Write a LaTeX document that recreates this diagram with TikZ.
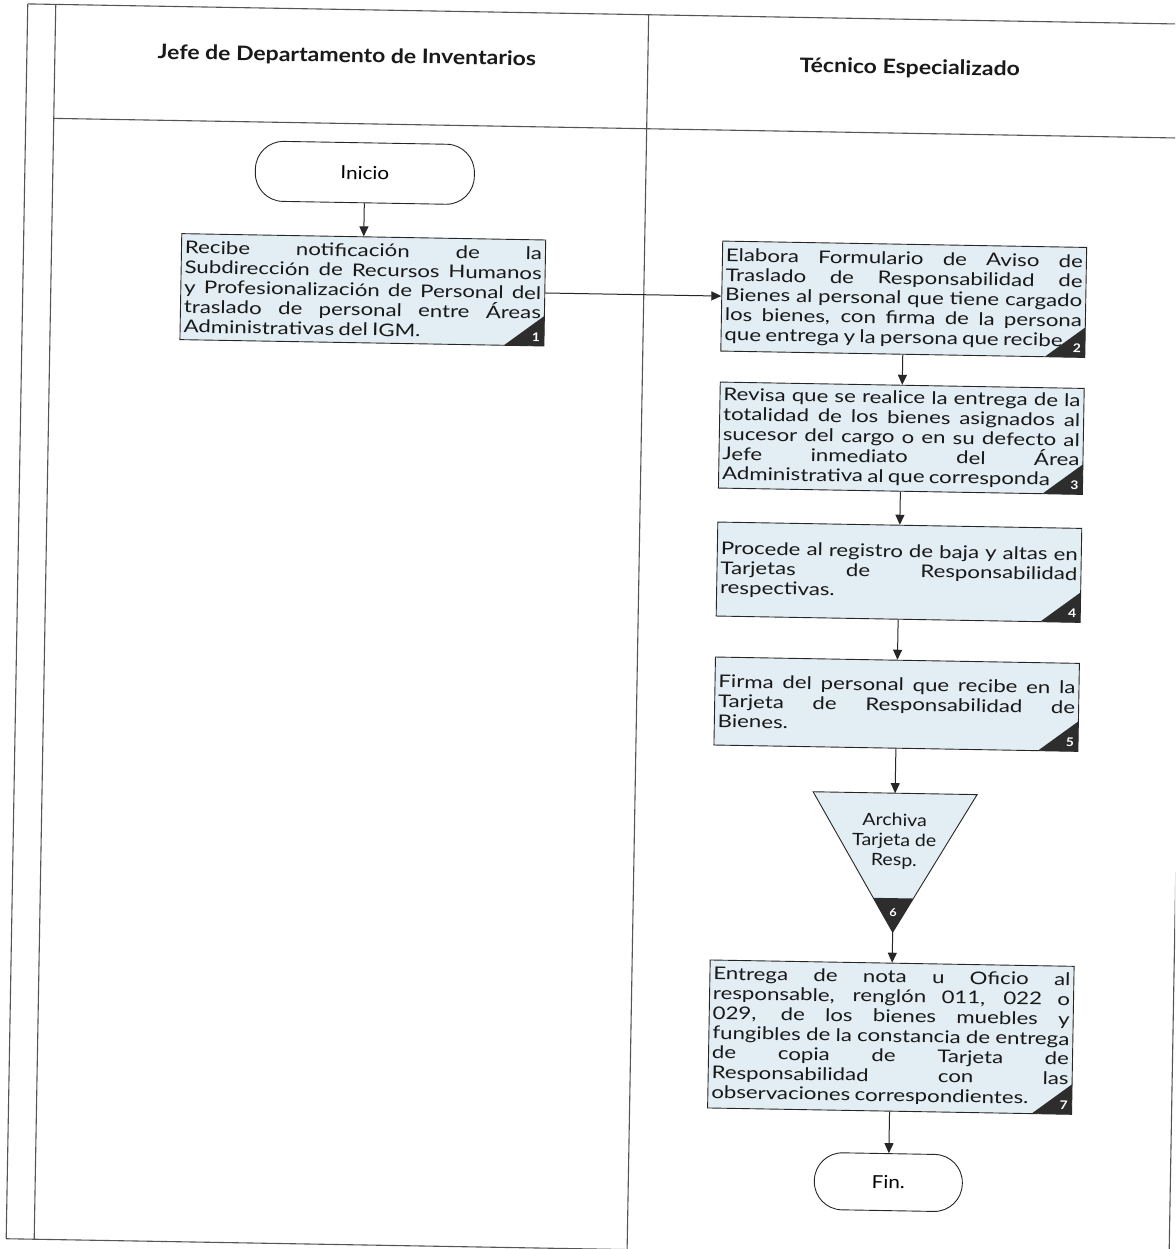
\documentclass[tikz,border=0pt]{standalone}
\usepackage{fontspec}
\setmainfont{Lato}[FakeStretch=1.15]
\newfontfamily\stepfont{Lato}[FakeStretch=1.27]
\usetikzlibrary{arrows.meta}
\definecolor{boxfill}{RGB}{226,238,244}
\definecolor{framegray}{RGB}{85,85,85}
\definecolor{tabdark}{RGB}{45,45,45}
% one justified line of a step text, and the closing line of a step text
\newcommand\jline[1]{\hbox to 357pt{\spaceskip=4.3pt plus 100pt minus 1.2pt\relax #1}}
\newcommand\lline[1]{\hbox to 357pt{\spaceskip=4.3pt minus 1.2pt\relax #1\hfil}}
% dark numbered corner tab at the lower right corner (x,y) of a step box
\newcommand\numtab[4]{%
  \fill[tabdark] (#1-40,#2) -- (#1,#2) -- (#1,#2-30) -- cycle;
  \node[tabnum] (#3) at (#1-8,#2-9) {#4};}
\begin{document}
\begin{tikzpicture}[x=1pt,y=-1pt,
  lane/.style={draw=framegray,line width=1.1pt},
  procbox/.style={draw=black!85,line width=0.9pt,fill=boxfill,rectangle,
    minimum width=364pt,inner xsep=0pt,inner ysep=2pt,
    text=black!90,font=\stepfont\fontsize{17.5}{19.8}\selectfont},
  terminal/.style={draw=black!85,line width=0.9pt,fill=white,rectangle,
    rounded corners=28pt,font=\fontsize{18}{20}\selectfont},
  flow/.style={draw=black!85,line width=1pt,-{Triangle[length=10pt,width=9pt]}},
  lanehead/.style={font=\bfseries\fontsize{20}{24}\selectfont,text=black!90},
  tabnum/.style={text=white,font=\bfseries\fontsize{12}{12}\selectfont,inner sep=0pt}
]
\useasboundingbox (0,0) rectangle (1175,1249);
\clip (0,0) rectangle (1175,1249);
\fill[white] (0,0) rectangle (1175,1249);
\begin{scope}[rotate around={-1:(600,625)},transform shape]
  % swimlane frame
  \draw[lane] (17,14) -- (1180,14);
  \draw[lane] (45,128) -- (1180,128);
  \draw[lane] (17,1249) -- (1180,1249);
  \draw[lane] (17,14) -- (17,1249);
  \draw[lane] (45,14) -- (45,1249);
  \draw[lane] (638,14) -- (638,1249);
  \draw[lane] (1180,14) -- (1180,1249);
  \node[lanehead] (h1) at (337,61) {Jefe de Departamento de Inventarios};
  \node[lanehead] (h2) at (900,63) {Técnico Especializado};

  % terminals
  \node[terminal,minimum width=219pt,minimum height=60pt] (ini) at (357,177) {Inicio};
  \node[terminal,minimum width=148pt,minimum height=57pt] (fin) at (898,1177) {Fin.};

  % step boxes
  \node[procbox,minimum height=106pt] (b1) at (357,294) {\vbox{%
    \jline{Recibe notificación de la}
    \jline{Subdirección de Recursos Humanos}
    \jline{y Profesionalización de Personal del}
    \jline{traslado de personal entre Áreas}
    \lline{Administrativas del IGM.}}};
  \node[procbox,minimum height=110pt] (b2) at (898,294) {\vbox{%
    \jline{Elabora Formulario de Aviso de}
    \jline{Traslado de Responsabilidad de}
    \jline{Bienes al personal que tiene cargado}
    \jline{los bienes, con firma de la persona}
    \lline{que entrega y la persona que recibe}}};
  \node[procbox,minimum height=106pt] (b3) at (898,433) {\vbox{%
    \jline{Revisa que se realice la entrega de la}
    \jline{totalidad de los bienes asignados al}
    \jline{sucesor del cargo o en su defecto al}
    \jline{Jefe inmediato del Área}
    \lline{Administrativa al que corresponda}}};
  \node[procbox,minimum height=94pt] (b4) at (898,567) {\vbox{%
    \jline{Procede al registro de baja y altas en}
    \jline{Tarjetas de Responsabilidad}
    \lline{respectivas.}}};
  \node[procbox,minimum height=88pt] (b5) at (898,699) {\vbox{%
    \jline{Firma del personal que recibe en la}
    \jline{Tarjeta de Responsabilidad de}
    \lline{Bienes.}}};
  \node[procbox,minimum height=148pt] (b7) at (898,1032) {\vbox{%
    \jline{Entrega de nota u Oficio al}
    \jline{responsable, renglón 011, 022 o}
    \jline{029, de los bienes muebles y}
    \jline{fungibles de la constancia de entrega}
    \jline{de copia de Tarjeta de}
    \jline{Responsabilidad con las}
    \lline{observaciones correspondientes.}}};

  % numbered corner tabs
  \numtab{539}{347}{n1}{1}
  \numtab{1080}{349}{n2}{2}
  \numtab{1080}{486}{n3}{3}
  \numtab{1080}{614}{n4}{4}
  \numtab{1080}{743}{n5}{5}
  \numtab{1080}{1106}{n7}{7}

  % archive step (inverted triangle)
  \coordinate (t6top) at (898,788);
  \coordinate (t6apex) at (898,927);
  \filldraw[fill=boxfill,draw=black!85,line width=0.9pt]
    (816,788) -- (980,788) -- (t6apex) -- cycle;
  \fill[tabdark] (878,893) -- (918,893) -- (t6apex) -- cycle;
  \node[tabnum,font=\bfseries\fontsize{11}{11}\selectfont] (n6) at (898,907) {6};
  \node[align=center,text=black!90,font=\fontsize{17}{20}\selectfont] (t6) at (898,836)
    {Archiva\\Tarjeta de\\Resp.};

  % flow
  \draw[flow] (ini.south) -- (b1.north);
  \draw[flow] (b1.east) -- (b2.west);
  \draw[flow] (b2.south) -- (b3.north);
  \draw[flow] (b3.south) -- (b4.north);
  \draw[flow] (b4.south) -- (b5.north);
  \draw[flow] (b5.south) -- (t6top);
  \draw[flow] (t6apex) -- (b7.north);
  \draw[flow] (b7.south) -- (fin.north);
\end{scope}
\end{tikzpicture}
\end{document}
